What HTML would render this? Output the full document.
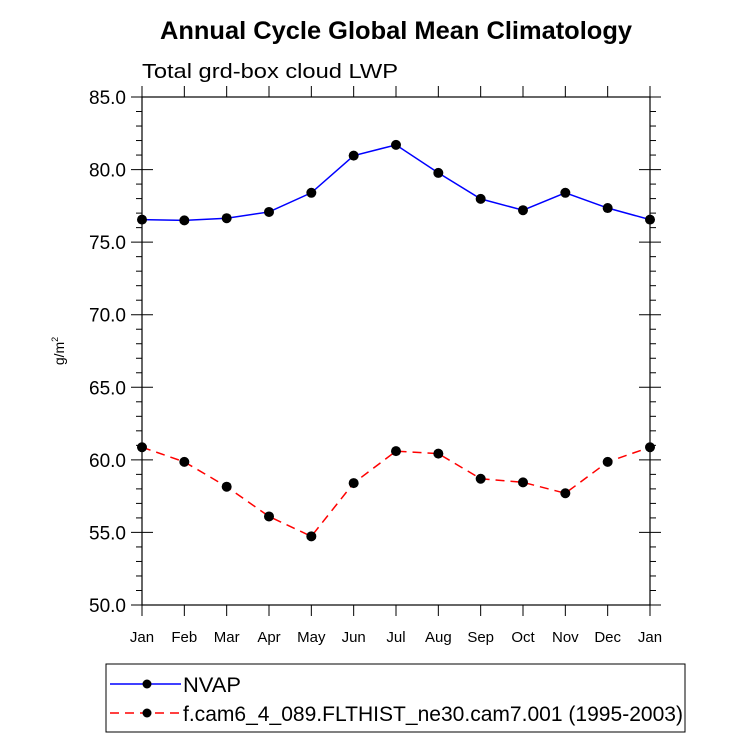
<!DOCTYPE html>
<html><head><meta charset="utf-8"><style>
html,body{margin:0;padding:0;background:#fff;}
svg{display:block;font-family:"Liberation Sans",Arial,sans-serif;}
</style></head><body>
<svg id="chart" width="732" height="738" viewBox="0 0 732 738">
<text x="160" y="39" font-size="25" font-weight="bold" textLength="472" lengthAdjust="spacingAndGlyphs">Annual Cycle Global Mean Climatology</text>
<text x="142" y="78" font-size="20" textLength="256" lengthAdjust="spacingAndGlyphs">Total grd-box cloud LWP</text>
<text transform="translate(64,351) rotate(-90)" text-anchor="middle" font-size="14">g/m<tspan dy="-6" font-size="9">2</tspan></text>
<g id="axes"></g>
<g id="series"></g>
<rect x="106" y="664" width="579" height="68" fill="none" stroke="#000" stroke-width="1"/>
<g>
<line x1="110" y1="684" x2="181" y2="684" stroke="#0000ff" stroke-width="1.5"/>
<circle cx="147" cy="684" r="4.5" fill="#000"/>
<text x="183" y="692" font-size="21" textLength="58" lengthAdjust="spacingAndGlyphs">NVAP</text>
</g>
<g>
<line x1="110" y1="713" x2="181" y2="713" stroke="#ff0000" stroke-width="1.5" stroke-dasharray="9,6"/>
<circle cx="147" cy="713" r="4.5" fill="#000"/>
<text x="183" y="721" font-size="21" textLength="500" lengthAdjust="spacingAndGlyphs">f.cam6_4_089.FLTHIST_ne30.cam7.001 (1995-2003)</text>
</g>
</svg>
<script>
const months = ["Jan","Feb","Mar","Apr","May","Jun","Jul","Aug","Sep","Oct","Nov","Dec","Jan"];
const nvapValues = [76.55,76.5,76.65,77.08,78.4,80.96,81.7,79.77,77.98,77.2,78.4,77.35,76.55];
const modelValues = [60.87,59.86,58.15,56.1,54.73,58.4,60.6,60.43,58.7,58.45,57.7,59.86,60.87];
const yTicks = [50,55,60,65,70,75,80,85];
const yTickLabels = ["50.0","55.0","60.0","65.0","70.0","75.0","80.0","85.0"];

const L=142,R=650,T=97,B=605,yMin=50,yMax=85;
const NS="http://www.w3.org/2000/svg";
function xs(i){return L+(R-L)*i/(months.length-1);}
function ys(v){return B-(B-T)*(v-yMin)/(yMax-yMin);}
function mk(tag,attrs,parent){const e=document.createElementNS(NS,tag);for(const k in attrs)e.setAttribute(k,attrs[k]);parent.appendChild(e);return e;}
const ax=document.getElementById('axes');
const frame=mk('rect',{x:L,y:T,width:R-L,height:B-T,fill:'none',stroke:'#000','stroke-width':1.2},ax);


for(let v=yMin;v<=yMax;v++){
  const y=ys(v);const major=(v%5===0);
  const len=major?11:6;
  mk('line',{x1:L-len,y1:y,x2:major?L+len:L,y2:y,stroke:'#000','stroke-width':1},ax);
  mk('line',{x1:R+len,y1:y,x2:major?R-len:R,y2:y,stroke:'#000','stroke-width':1},ax);
}
yTicks.forEach((v,i)=>{
  const t=mk('text',{x:L-16,y:ys(v)+7,'text-anchor':'end','font-size':19},ax);
  t.textContent=yTickLabels[i];
  
  
});
months.forEach((m,i)=>{
  const x=xs(i);
  mk('line',{x1:x,y1:B,x2:x,y2:B+11,stroke:'#000','stroke-width':1},ax);
  mk('line',{x1:x,y1:T,x2:x,y2:T-11,stroke:'#000','stroke-width':1},ax);
  const t=mk('text',{x:x,y:B+37,'text-anchor':'middle','font-size':15},ax);
  t.textContent=m;
  
  
});
const sg=document.getElementById('series');
function series(vals,color,dash,name){
  const pts=vals.map((v,i)=>xs(i)+','+ys(v)).join(' ');
  const pl=mk('polyline',{points:pts,fill:'none',stroke:color,'stroke-width':1.5},sg);
  if(dash)pl.setAttribute('stroke-dasharray',dash);
  
  
  vals.forEach((v,i)=>{
    const c=mk('circle',{cx:xs(i),cy:ys(v),r:5,fill:'#000'},sg);
    
    
  });
}
series(nvapValues,'#0000ff',null,'nvap');
series(modelValues,'#ff0000','9,6','model');
</script>
</body></html>
